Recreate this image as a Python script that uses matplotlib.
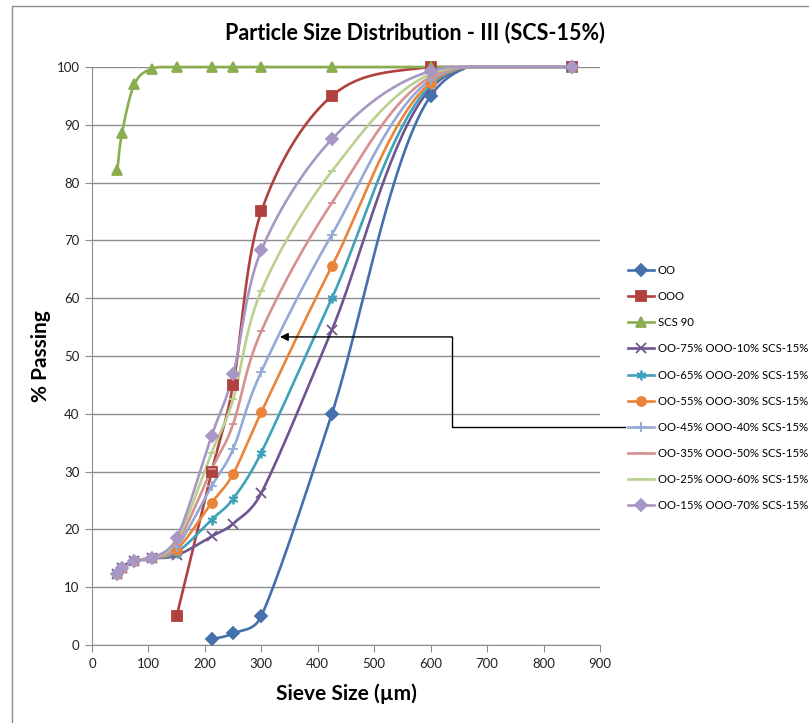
import numpy as np
import matplotlib
matplotlib.use("Agg")
import matplotlib.pyplot as plt
from matplotlib.lines import Line2D
from matplotlib.patches import Rectangle

plt.rcParams['font.family'] = ['Lato', 'DejaVu Sans']

# Sieve sizes (micron) and % passing
sieve = [45, 53, 75, 106, 150, 212, 250, 300, 425, 600, 850]

oo_x = [212, 250, 300, 425, 600, 850]
oo_y = [1, 2, 5, 40, 95, 100]

ooo_x = [150, 212, 250, 300, 425, 600, 850]
ooo_y = [5, 30, 45, 75, 95, 100, 100]

scs90 = [82.2, 88.5, 97.0, 99.7, 100, 100, 100, 100, 100, 100, 100]

mix_75_10 = [12.3, 13.3, 14.6, 15.0, 15.5, 18.8, 21.0, 26.3, 54.5, 96.3, 100]
mix_65_20 = [12.3, 13.3, 14.6, 15.0, 16.0, 21.7, 25.3, 33.3, 60.0, 96.8, 100]
mix_55_30 = [12.3, 13.3, 14.6, 15.0, 16.5, 24.6, 29.6, 40.3, 65.5, 97.3, 100]
mix_45_40 = [12.3, 13.3, 14.6, 15.0, 17.0, 27.5, 33.9, 47.3, 71.0, 97.8, 100]
mix_35_50 = [12.3, 13.3, 14.6, 15.0, 17.5, 30.4, 38.2, 54.3, 76.5, 98.3, 100]
mix_25_60 = [12.3, 13.3, 14.6, 15.0, 18.0, 33.3, 42.5, 61.3, 82.0, 98.8, 100]
mix_15_70 = [12.3, 13.3, 14.6, 15.0, 18.5, 36.2, 46.8, 68.3, 87.5, 99.3, 100]

labels = ["OO", "OOO", "SCS 90",
          "OO-75% OOO-10% SCS-15%", "OO-65% OOO-20% SCS-15%",
          "OO-55% OOO-30% SCS-15%", "OO-45% OOO-40% SCS-15%",
          "OO-35% OOO-50% SCS-15%", "OO-25% OOO-60% SCS-15%",
          "OO-15% OOO-70% SCS-15%"]

# pixel scale of the plot area, used so the smoothing behaves like Excel's
SX, SY = 508 / 900, 578 / 100


def smooth(x, y, n=40):
    """Excel-like smoothed line: bezier with arm length capped at half a segment."""
    pts = np.column_stack([x, y]).astype(float) * [SX, SY]
    out = [pts[0]]
    t = np.linspace(0, 1, n)[1:, None]
    for i in range(len(pts) - 1):
        p0 = pts[i - 1] if i > 0 else pts[i]
        p1, p2 = pts[i], pts[i + 1]
        p3 = pts[i + 2] if i + 2 < len(pts) else pts[i + 1]
        d12 = np.hypot(*(p2 - p1))
        d02 = np.hypot(*(p2 - p0))
        d13 = np.hypot(*(p3 - p1))
        f0 = 1 / 6 if d02 / 6 < d12 / 2 else d12 / (2 * d02)
        f1 = 1 / 6 if d13 / 6 < d12 / 2 else d12 / (2 * d13)
        c1 = p1 + (p2 - p0) * f0
        c2 = p2 - (p3 - p1) * f1
        seg = (1 - t) ** 3 * p1 + 3 * (1 - t) ** 2 * t * c1 + 3 * (1 - t) * t ** 2 * c2 + t ** 3 * p2
        out.extend(seg)
    out = np.array(out) / [SX, SY]
    return out[:, 0], np.clip(out[:, 1], 0, 100)


series = [
    (oo_x, oo_y, '#4470AB', 'D', 6.0),
    (ooo_x, ooo_y, '#B0413E', 's', 6.5),
    (sieve, scs90, '#8AAE4F', '^', 7.0),
    (sieve, mix_75_10, '#6F5590', 'x', 6.5),
    (sieve, mix_65_20, '#3FA2BA', (6, 2, 0), 7.0),
    (sieve, mix_55_30, '#E9843A', 'o', 6.5),
    (sieve, mix_45_40, '#94AAD6', '+', 7.0),
    (sieve, mix_35_50, '#D4918F', '_', 6.0),
    (sieve, mix_25_60, '#B9D08F', '_', 6.0),
    (sieve, mix_15_70, '#A897C4', 'D', 6.0),
]

fig = plt.figure(figsize=(8.09, 7.23), dpi=100)
ax = fig.add_axes([92 / 809, 78 / 723, 508 / 809, 578 / 723])

grid_c = '#8C8C8C'
handles = []
for (x, y, c, m, ms), lab in zip(series, labels):
    sx, sy = smooth(x, y)
    ax.plot(sx, sy, color=c, lw=1.9, clip_on=False, zorder=3)
    ax.plot(x, y, ls='none', marker=m, ms=ms, color=c, mec=c, mew=1.3,
            clip_on=False, zorder=4)
    handles.append(Line2D([], [], color=c, lw=1.9, marker=m, ms=ms, mec=c, mew=1.3))

ax.set_xlim(0, 900)
ax.set_ylim(0, 100)
ax.set_xticks(range(0, 901, 100))
ax.set_yticks(range(0, 101, 10))
ax.yaxis.grid(True, color=grid_c, lw=1.0)
ax.set_axisbelow(True)
for s in ['top', 'right']:
    ax.spines[s].set_visible(False)
for s in ['left', 'bottom']:
    ax.spines[s].set_color(grid_c)
ax.tick_params(axis='both', direction='out', length=5, color=grid_c,
               labelsize=9.5, labelcolor='#222222', pad=4)

ax.set_xlabel("Sieve Size (\u00b5m)", fontsize=15, fontweight='bold', labelpad=10)
ax.set_ylabel("% Passing", fontsize=15, fontweight='bold', labelpad=4)
fig.text(415 / 809, 1 - 33 / 723, "Particle Size Distribution - III (SCS-15%)",
         ha='center', va='center', fontsize=15.5, fontweight='bold')

# annotation arrow from legend entry to the 45/40 blend curve
ax.plot([944, 638, 638], [37.7, 37.7, 53.3], color='black', lw=1.0, clip_on=False, zorder=5)
ax.annotate("", xy=(333, 53.3), xytext=(638, 53.3),
            arrowprops=dict(arrowstyle='-|>', color='black', lw=1.0,
                            shrinkA=0, shrinkB=0, mutation_scale=12),
            annotation_clip=False, zorder=5)

fig.legend(handles, labels, loc='upper left', bbox_to_anchor=(628 / 809, 1 - 265 / 723),
           frameon=False, fontsize=8.2, numpoints=1, handlelength=2.3,
           handletextpad=0.3, labelspacing=1.33, borderaxespad=0, borderpad=0)

# chart area border (top and left edges visible)
fig.patches.append(Rectangle((12 / 809, -0.1), 1.2, 1 - 6 / 723 + 0.1,
                             transform=fig.transFigure, fill=False,
                             edgecolor='#8C8C8C', lw=1.0))

fig.savefig("out.png", dpi=100)
